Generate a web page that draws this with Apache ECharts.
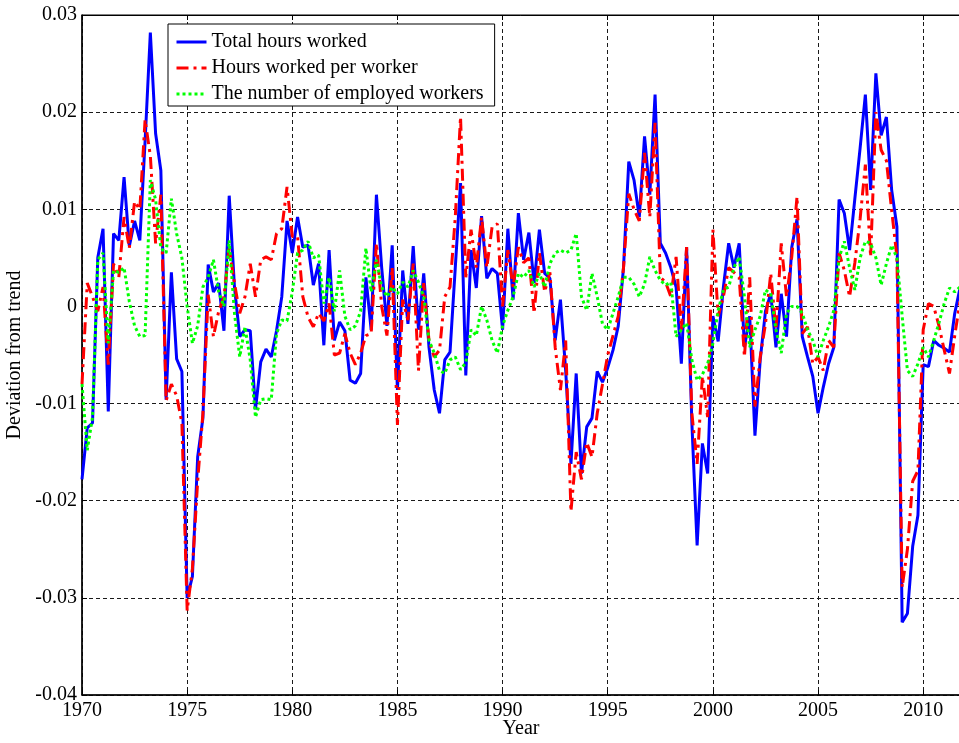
<!DOCTYPE html>
<html>
<head>
<meta charset="utf-8">
<script src="https://cdn.jsdelivr.net/npm/echarts@6/dist/echarts.min.js"></script>
<style>
html,body{margin:0;padding:0;background:#fff;}
#chart{width:959px;height:743px;}
</style>
</head>
<body>
<div id="chart"></div>
<script>
// Quarterly observations, 1970Q1 onward
const startYear = 1970;
const seriesNames = ['Total hours worked', 'Hours worked per worker', 'The number of employed workers'];
const yTicks = [-0.04, -0.03, -0.02, -0.01, 0, 0.01, 0.02, 0.03];
const xTickYears = [1970, 1975, 1980, 1985, 1990, 1995, 2000, 2005, 2010];

const totalHours = [
-0.0178,-0.0125,-0.0120,0.0050,0.0080,-0.0108,0.0075,0.0068,0.0133,0.0062,
0.0088,0.0068,0.0170,0.0282,0.0178,0.0140,-0.0096,0.0035,-0.0054,-0.0067,
-0.0300,-0.0278,-0.0155,-0.0115,0.0043,0.0015,0.0024,-0.0025,0.0114,0.0020,
-0.0031,-0.0024,-0.0025,-0.0106,-0.0057,-0.0044,-0.0052,-0.0025,0.0010,0.0088,
0.0055,0.0092,0.0061,0.0063,0.0022,0.0044,-0.0040,0.0058,-0.0035,-0.0016,
-0.0025,-0.0076,-0.0079,-0.0069,0.0030,-0.0024,0.0115,0.0040,-0.0020,0.0063,
-0.0086,0.0037,-0.0018,0.0062,-0.0024,0.0034,-0.0042,-0.0086,-0.0110,-0.0055,
-0.0047,0.0040,0.0127,-0.0071,0.0058,0.0019,0.0093,0.0029,0.0039,0.0034,
-0.0024,0.0080,0.0007,0.0096,0.0048,0.0076,0.0024,0.0079,0.0034,0.0029,
-0.0035,0.0007,-0.0066,-0.0162,-0.0069,-0.0172,-0.0124,-0.0115,-0.0067,-0.0078,
-0.0063,-0.0045,-0.0020,0.0040,0.0149,0.0130,0.0092,0.0175,0.0115,0.0218,
0.0065,0.0055,0.0040,0.0020,-0.0059,0.0061,-0.0120,-0.0246,-0.0141,-0.0172,
-0.0010,-0.0036,0.0020,0.0065,0.0040,0.0065,-0.0042,-0.0010,-0.0133,-0.0055,
-0.0005,0.0013,-0.0042,0.0013,-0.0031,0.0061,0.0090,-0.0031,-0.0052,-0.0072,
-0.0110,-0.0083,-0.0059,-0.0042,0.0110,0.0096,0.0058,0.0111,0.0163,0.0218,
0.0120,0.0240,0.0176,0.0195,0.0120,0.0082,-0.0325,-0.0316,-0.0247,-0.0215,
-0.0060,-0.0062,-0.0035,-0.0040,-0.0043,-0.0047,-0.0007,0.0019
];

const hoursPerWorker = [
-0.0080,0.0024,0.0010,-0.0005,0.0020,-0.0060,0.0044,0.0030,0.0092,0.0060,
0.0108,0.0100,0.0192,0.0155,0.0065,0.0115,-0.0097,-0.0080,-0.0092,-0.0120,
-0.0313,-0.0270,-0.0180,-0.0110,0.0012,-0.0031,-0.0005,0.0010,0.0060,0.0024,
-0.0007,0.0010,0.0044,0.0010,0.0048,0.0051,0.0048,0.0075,0.0080,0.0123,
0.0072,0.0072,0.0010,-0.0011,-0.0021,-0.0007,-0.0015,0.0003,-0.0050,-0.0048,
-0.0028,-0.0048,-0.0060,-0.0048,-0.0030,-0.0028,0.0065,0.0000,-0.0030,0.0040,
-0.0122,0.0007,-0.0014,0.0044,-0.0066,0.0024,-0.0035,-0.0052,-0.0045,0.0010,
0.0020,0.0092,0.0195,0.0030,0.0079,0.0040,0.0092,0.0040,0.0082,0.0085,
0.0000,0.0058,0.0020,0.0061,0.0045,0.0050,-0.0007,0.0055,0.0015,0.0035,
-0.0042,-0.0086,-0.0035,-0.0211,-0.0150,-0.0178,-0.0140,-0.0155,-0.0110,-0.0080,
-0.0050,-0.0030,-0.0010,0.0040,0.0116,0.0100,0.0088,0.0158,0.0092,0.0189,
0.0030,0.0025,0.0010,0.0051,-0.0024,0.0061,-0.0110,-0.0162,-0.0072,-0.0114,
0.0079,-0.0010,0.0010,0.0040,0.0035,0.0030,-0.0052,0.0030,-0.0103,-0.0052,
-0.0018,0.0034,-0.0024,0.0065,0.0010,0.0051,0.0113,-0.0028,-0.0021,-0.0059,
-0.0052,-0.0066,-0.0035,-0.0042,0.0055,0.0037,0.0010,0.0045,0.0090,0.0146,
0.0051,0.0200,0.0161,0.0150,0.0099,0.0051,-0.0289,-0.0250,-0.0180,-0.0169,
-0.0024,0.0003,0.0000,-0.0020,-0.0045,-0.0069,-0.0030,0.0005
];

const employedWorkers = [
-0.0080,-0.0148,-0.0114,0.0048,0.0055,-0.0038,0.0037,0.0035,0.0040,0.0005,
-0.0020,-0.0031,-0.0030,0.0130,0.0110,0.0060,0.0055,0.0111,0.0075,0.0050,
0.0000,-0.0038,-0.0020,0.0020,0.0030,0.0048,0.0015,0.0000,0.0068,-0.0007,
-0.0052,-0.0021,-0.0055,-0.0114,-0.0096,-0.0095,-0.0096,-0.0028,-0.0014,-0.0015,
0.0015,0.0055,0.0058,0.0067,0.0050,0.0053,0.0003,0.0030,-0.0005,0.0037,
-0.0010,-0.0024,-0.0020,-0.0005,0.0060,0.0015,0.0048,0.0020,0.0010,0.0020,
0.0013,0.0025,0.0020,0.0037,0.0025,0.0010,-0.0035,-0.0048,-0.0066,-0.0069,
-0.0055,-0.0052,-0.0065,-0.0058,-0.0024,-0.0030,0.0000,-0.0014,-0.0035,-0.0048,
-0.0020,-0.0004,0.0010,0.0034,0.0030,0.0037,0.0020,0.0034,0.0020,0.0044,
0.0055,0.0058,0.0055,0.0058,0.0075,0.0010,-0.0004,0.0034,0.0010,-0.0018,
-0.0024,-0.0007,0.0010,0.0030,0.0030,0.0023,0.0010,0.0023,0.0051,0.0037,
0.0027,0.0022,0.0025,-0.0031,-0.0024,-0.0017,-0.0055,-0.0076,-0.0070,-0.0059,
-0.0038,-0.0004,0.0017,0.0020,0.0040,0.0051,0.0010,-0.0042,-0.0024,-0.0010,
0.0017,0.0013,-0.0024,-0.0048,-0.0007,0.0000,0.0000,-0.0007,-0.0024,-0.0035,
-0.0052,-0.0035,-0.0021,-0.0004,0.0050,0.0067,0.0040,0.0017,0.0050,0.0067,
0.0065,0.0050,0.0022,0.0044,0.0063,0.0050,-0.0010,-0.0066,-0.0072,-0.0059,
-0.0042,-0.0052,-0.0035,-0.0017,0.0003,0.0019,0.0015,0.0020
];

const quarters = totalHours.map((_, i) => startYear + i / 4);
const pair = arr => arr.map((v, i) => [quarters[i], v]);

const FONT = 'Liberation Serif';
const chart = echarts.init(document.getElementById('chart'), null, {renderer: 'canvas'});

const gridLine = {show: true, lineStyle: {color: '#1a1a1a', width: 1, type: [4, 3]}};

chart.setOption({
  animation: false,
  backgroundColor: '#fff',
  textStyle: {fontFamily: FONT},
  grid: {left: 82, top: 15, width: 878, height: 680, containLabel: false, outerBoundsMode: 'none',
         show: true, borderColor: '#000', borderWidth: 1},
  legend: {
    orient: 'vertical', left: 168, top: 24,
    padding: [8, 11, 2, 7], itemGap: 6, itemWidth: 30, itemHeight: 14,
    backgroundColor: '#fff', borderColor: '#000', borderWidth: 1,
    itemStyle: {color: 'rgba(0,0,0,0)', borderColor: 'rgba(0,0,0,0)', borderWidth: 0, opacity: 0},
    lineStyle: {width: 3},
    textStyle: {fontFamily: FONT, fontSize: 20, color: '#000'},
    data: seriesNames
  },
  xAxis: [{
    type: 'value', min: 1970, max: 2011.75, interval: 5,
    name: 'Year', nameLocation: 'middle', nameGap: 24, nameMoveOverlap: false,
    nameTextStyle: {fontFamily: FONT, fontSize: 20, color: '#000'},
    axisLine: {show: true, onZero: false, lineStyle: {color: '#000', width: 1.5}},
    axisTick: {show: true, inside: true, length: 5, lineStyle: {color: '#000'}},
    axisLabel: {fontFamily: FONT, fontSize: 20, color: '#000', margin: 6,
      formatter: v => (xTickYears.indexOf(Math.round(v * 1000) / 1000) >= 0 ? String(Math.round(v)) : '')},
    splitLine: gridLine
  }, {
    type: 'value', min: 1970, max: 2011.75, interval: 5, position: 'top',
    axisLine: {show: true, onZero: false, lineStyle: {color: '#000', width: 1}},
    axisTick: {show: true, inside: true, length: 5, lineStyle: {color: '#000'}},
    axisLabel: {show: false}, splitLine: {show: false}
  }],
  yAxis: {
    type: 'value', min: yTicks[0], max: yTicks[yTicks.length - 1], interval: 0.01,
    name: 'Deviation from trend', nameLocation: 'middle', nameGap: 57,
    nameTextStyle: {fontFamily: FONT, fontSize: 20, color: '#000'},
    axisLine: {show: true, onZero: false, lineStyle: {color: '#000', width: 1.5}},
    axisTick: {show: true, inside: true, length: 5, lineStyle: {color: '#000'}},
    axisLabel: {fontFamily: FONT, fontSize: 20, color: '#000', margin: 5,
      formatter: v => { const r = Math.round(v * 100) / 100; return r === 0 ? '0' : String(r); }},
    splitLine: gridLine
  },
  series: [
    {name: seriesNames[0], type: 'line', data: pair(totalHours), showSymbol: false, symbol: 'none',
     lineStyle: {color: '#0000ff', width: 3, type: 'solid'}, itemStyle: {color: '#0000ff'}, z: 2},
    {name: seriesNames[1], type: 'line', data: pair(hoursPerWorker), showSymbol: false, symbol: 'none',
     lineStyle: {color: '#ff0000', width: 3, type: [12, 5, 3, 5]}, itemStyle: {color: '#ff0000'}, z: 3},
    {name: seriesNames[2], type: 'line', data: pair(employedWorkers), showSymbol: false, symbol: 'none',
     lineStyle: {color: '#00ff00', width: 3, type: [3, 3]}, itemStyle: {color: '#00ff00'}, z: 4}
  ]
});
</script>
</body>
</html>
